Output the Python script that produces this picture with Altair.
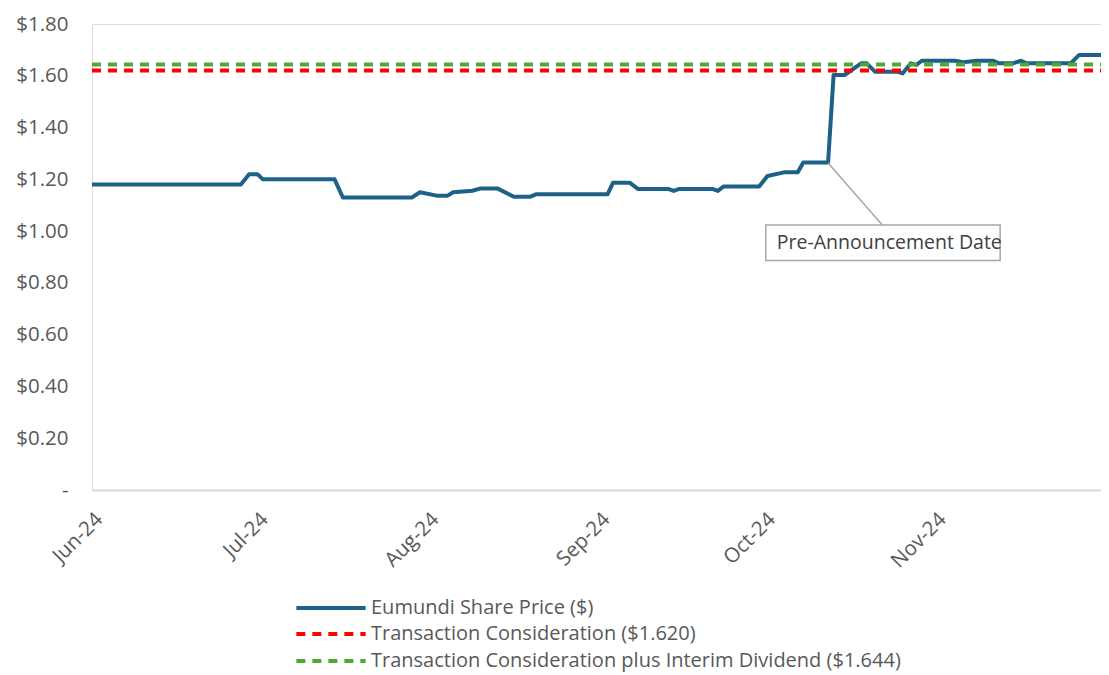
import altair as alt
import pandas as pd

# ---- data ----
price_dates = [
    "2024-06-01T00:00", "2024-06-28T00:00", "2024-06-29T12:00", "2024-07-01T00:00",
    "2024-07-02T00:00", "2024-07-15T00:00", "2024-07-16T12:00", "2024-07-29T00:00",
    "2024-07-30T12:00", "2024-08-02T12:00", "2024-08-04T12:00", "2024-08-05T12:00",
    "2024-08-09T00:00", "2024-08-10T12:00", "2024-08-13T12:00", "2024-08-16T12:00",
    "2024-08-19T12:00", "2024-08-20T12:00", "2024-09-02T12:00", "2024-09-03T12:00",
    "2024-09-06T12:00", "2024-09-08T00:00", "2024-09-13T12:00", "2024-09-14T12:00",
    "2024-09-15T12:00", "2024-09-21T12:00", "2024-09-22T12:00", "2024-09-23T12:00",
    "2024-09-30T00:00", "2024-10-01T12:00", "2024-10-04T12:00", "2024-10-07T00:00",
    "2024-10-08T00:00", "2024-10-12T12:00", "2024-10-13T12:00", "2024-10-15T12:00",
    "2024-10-18T12:00", "2024-10-19T12:00", "2024-10-21T00:00", "2024-10-25T00:00",
    "2024-10-26T00:00", "2024-10-27T12:00", "2024-10-28T12:00", "2024-10-29T12:00",
    "2024-11-04T12:00", "2024-11-06T00:00", "2024-11-08T12:00", "2024-11-11T12:00",
    "2024-11-12T12:00", "2024-11-15T00:00", "2024-11-16T12:00", "2024-11-17T12:00",
    "2024-11-25T12:00", "2024-11-27T00:00", "2024-12-01T00:00",
]
prices = [
    1.180, 1.180, 1.220, 1.220,
    1.200, 1.200, 1.130, 1.130,
    1.150, 1.137, 1.137, 1.150,
    1.156, 1.165, 1.165, 1.133,
    1.133, 1.142, 1.142, 1.187,
    1.187, 1.163, 1.163, 1.155,
    1.163, 1.163, 1.155, 1.172,
    1.172, 1.213, 1.227, 1.227,
    1.265, 1.265, 1.603, 1.603,
    1.648, 1.648, 1.616, 1.616,
    1.609, 1.648, 1.642, 1.658,
    1.658, 1.652, 1.658, 1.658,
    1.648, 1.648, 1.658, 1.648,
    1.648, 1.680, 1.680,
]

ref_dates = ["2024-06-01T00:00", "2024-12-01T00:00"]
consideration = 1.620
consideration_plus_div = 1.644

series_names = [
    "Eumundi Share Price ($)",
    "Transaction Consideration ($1.620)",
    "Transaction Consideration plus Interim Dividend ($1.644)",
]
series_colors = ["#1D6189", "#FF0000", "#4EA832"]
dash = [9, 7]

month_ticks = [alt.DateTime(year=2024, month=m, date=1) for m in [6, 7, 8, 9, 10, 11]]
y_ticks = [0, 0.2, 0.4, 0.6, 0.8, 1.0, 1.2, 1.4, 1.6, 1.8]

# annotation (callout) in data coordinates
callout_text = "Pre-Announcement Date"
callout_from = ("2024-10-12T12:00", 1.263)
callout_to = ("2024-10-22T08:00", 1.024)
box_x = ("2024-10-01T05:00", "2024-11-12T17:00")
box_y = (0.886, 1.024)
text_pos = ("2024-10-03T05:00", 0.954)

FONT = "Open Sans"
FS = 20.5
LEGEND_FS = 20
GREY = "#595959"

# ---- tables ----
price_df = pd.DataFrame({"date": price_dates, "value": prices, "series": series_names[0]})
red_df = pd.DataFrame({"date": ref_dates, "value": [consideration] * 2, "series": series_names[1]})
green_df = pd.DataFrame({"date": ref_dates, "value": [consideration_plus_div] * 2,
                         "series": series_names[2]})

x_scale = alt.Scale(domain=[alt.DateTime(year=2024, month=6, date=1),
                            alt.DateTime(year=2024, month=12, date=1)])
y_scale = alt.Scale(domain=[0, 1.8], nice=False, zero=True)

x_enc = alt.X("date:T", scale=x_scale, title=None,
              axis=alt.Axis(format="%b-%y", values=month_ticks,
                            labelAngle=-45, labelFontSize=FS, labelColor=GREY,
                            labelFont=FONT, ticks=False, grid=False, domainColor="#D9D9D9",
                            domainWidth=2, labelPadding=19, labelAlign="right",
                            labelBaseline="top"))
y_enc = alt.Y("value:Q", scale=y_scale, title=None,
              axis=alt.Axis(values=y_ticks, grid=False, domain=False, ticks=False,
                            labelFontSize=FS, labelColor=GREY, labelFont=FONT,
                            labelPadding=24,
                            labelExpr="datum.value == 0 ? '-' : '$' + format(datum.value, '.2f')"))

LEGEND_ROW_Y = [547, 573, 600]


def legend(i, dashed):
    kw = dict(orient="none", legendX=202, legendY=LEGEND_ROW_Y[i],
              symbolType="stroke", symbolSize=4800, symbolStrokeWidth=4,
              labelFontSize=LEGEND_FS, labelFont=FONT, labelColor=GREY,
              labelOffset=3, padding=0, labelLimit=800)
    if dashed:
        kw["symbolDash"] = dash
    return alt.Legend(**kw)


def color_enc(i, dashed):
    return alt.Color("series:N", title=None,
                     scale=alt.Scale(domain=[series_names[i]], range=[series_colors[i]]),
                     legend=legend(i, dashed))


price_line = alt.Chart(price_df).mark_line(strokeWidth=4, strokeJoin="round").encode(
    x=x_enc, y=y_enc, color=color_enc(0, False), order=alt.Order("date:T"))
red_line = alt.Chart(red_df).mark_line(strokeWidth=4, strokeDash=dash).encode(
    x=x_enc, y=y_enc, color=color_enc(1, True))
green_line = alt.Chart(green_df).mark_line(strokeWidth=4, strokeDash=dash).encode(
    x=x_enc, y=y_enc, color=color_enc(2, True))

callout_df = pd.DataFrame([{
    "x": callout_from[0], "y": callout_from[1],
    "x2": callout_to[0], "y2": callout_to[1],
}])
leader = alt.Chart(callout_df).mark_rule(color="#A6A6A6", strokeWidth=1.5).encode(
    x=alt.X("x:T", scale=x_scale), y=alt.Y("y:Q", scale=y_scale),
    x2="x2:T", y2="y2:Q",
)

box_df = pd.DataFrame([{"x": box_x[0], "x2": box_x[1], "y": box_y[0], "y2": box_y[1]}])
box = alt.Chart(box_df).mark_rect(fill="white", stroke="#A6A6A6", strokeWidth=1.5).encode(
    x=alt.X("x:T", scale=x_scale), x2="x2:T",
    y=alt.Y("y:Q", scale=y_scale), y2="y2:Q",
)

text_df = pd.DataFrame([{"x": text_pos[0], "y": text_pos[1], "label": callout_text}])
text = alt.Chart(text_df).mark_text(align="left", baseline="middle", fontSize=19.5,
                                    font=FONT, color="#404040").encode(
    x=alt.X("x:T", scale=x_scale), y=alt.Y("y:Q", scale=y_scale), text="label:N",
)

chart = alt.layer(price_line, red_line, green_line, leader, box, text).resolve_scale(
    color="independent"
).properties(
    width=1009, height=466,
    padding={"left": 84, "top": 16, "right": 0, "bottom": 183},
    autosize=alt.AutoSizeParams(type="none"),
).configure_view(stroke=None).configure(background="white")

chart.save("out.html", embed_options={"renderer": "svg", "actions": False})
